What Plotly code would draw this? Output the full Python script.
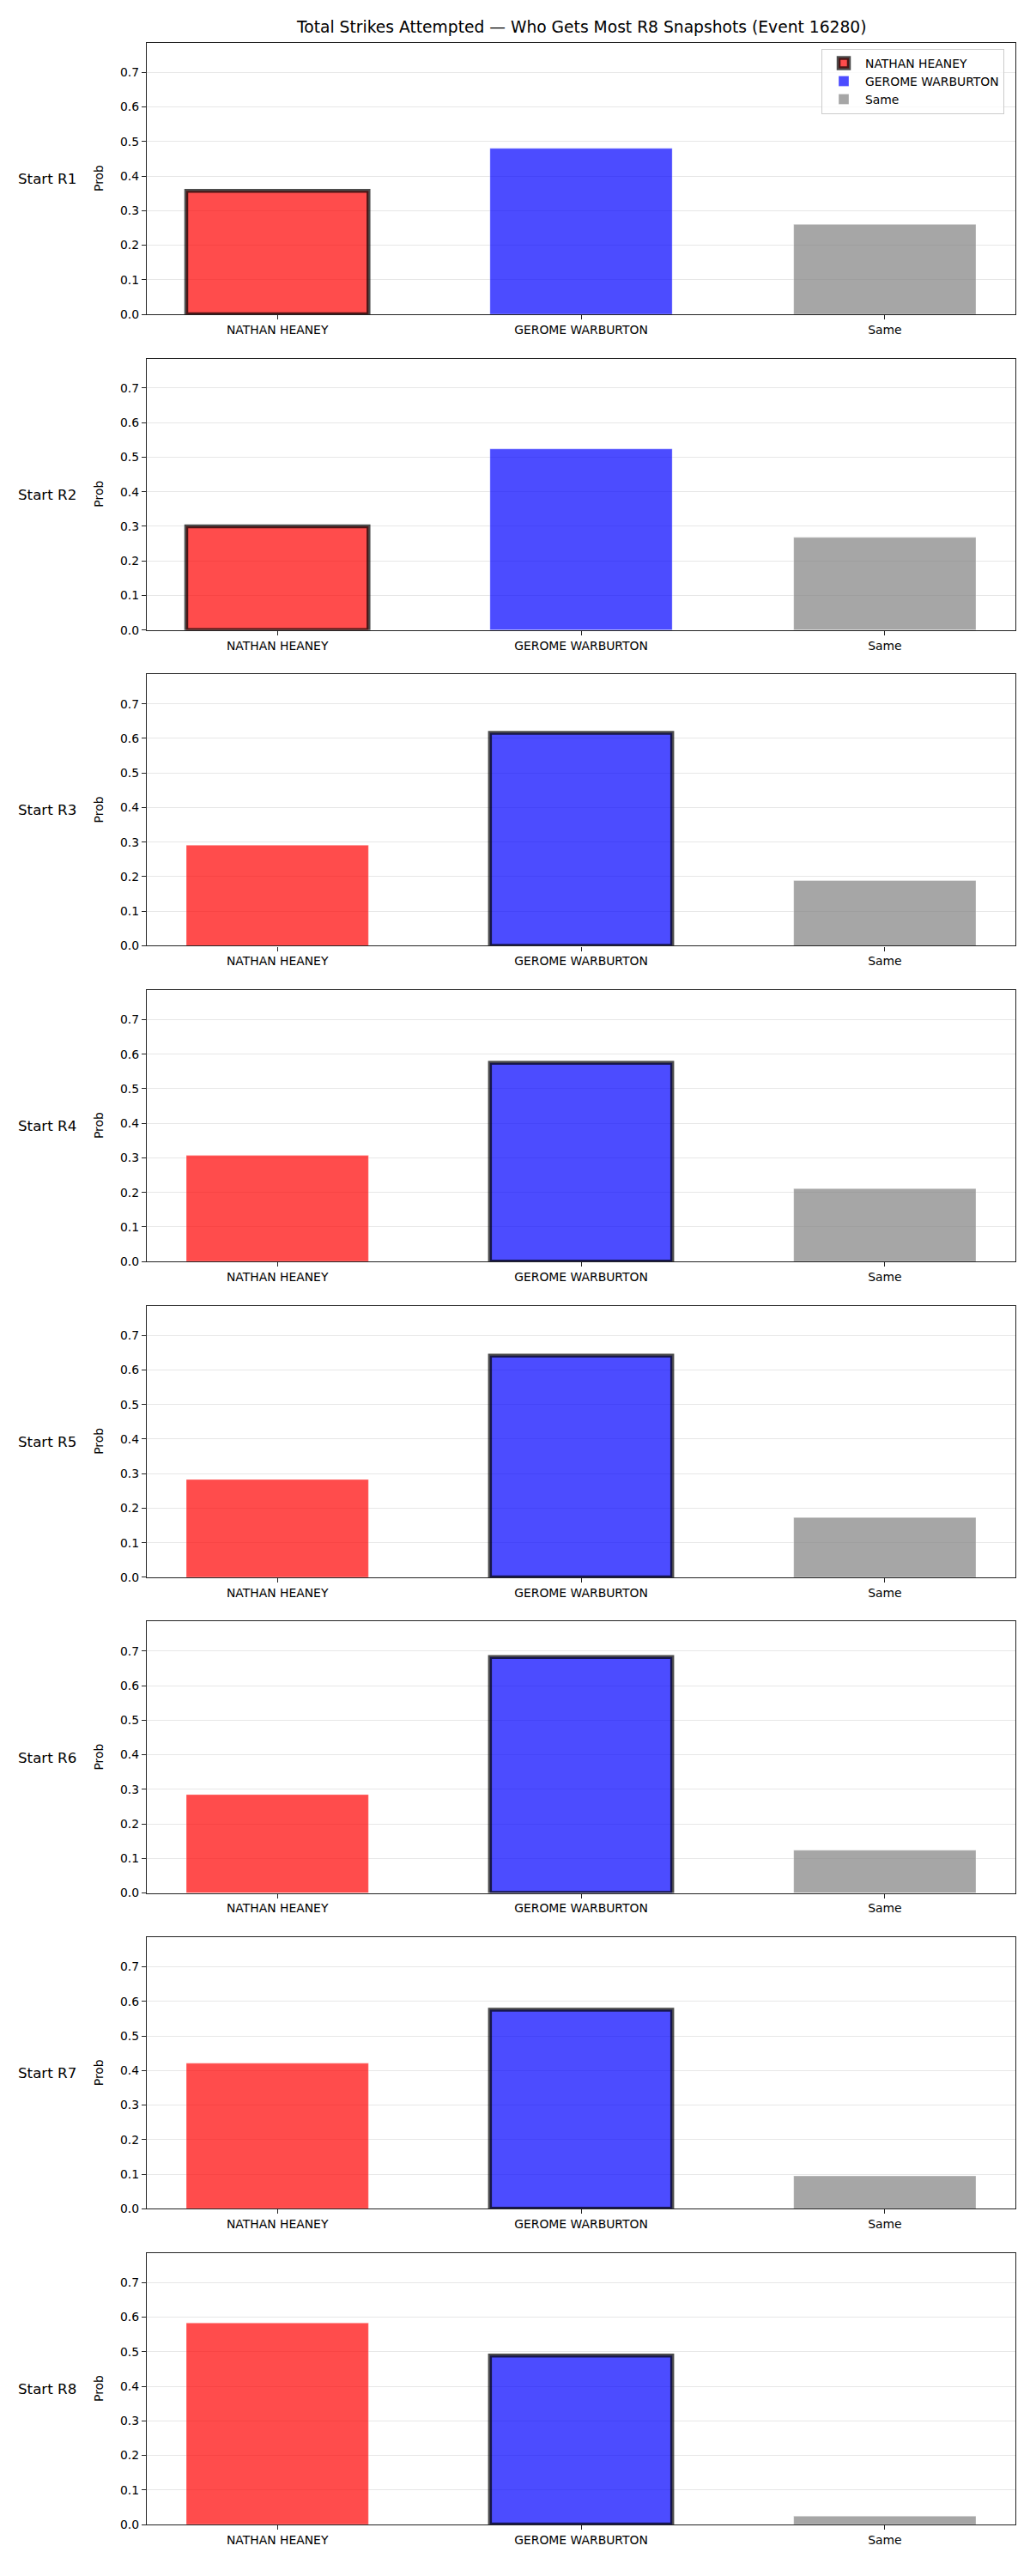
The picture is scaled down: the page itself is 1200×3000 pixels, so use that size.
import plotly.graph_objects as go

# ---- data ----
snapshots = ["Start R1", "Start R2", "Start R3", "Start R4",
             "Start R5", "Start R6", "Start R7", "Start R8"]
categories = ["NATHAN HEANEY", "GEROME WARBURTON", "Same"]
nathan = [0.357, 0.300, 0.291, 0.307, 0.283, 0.285, 0.421, 0.583]
gerome = [0.480, 0.524, 0.616, 0.575, 0.641, 0.683, 0.576, 0.489]
same = [0.260, 0.268, 0.189, 0.211, 0.173, 0.124, 0.095, 0.024]
highlight = ["NATHAN HEANEY", "NATHAN HEANEY", "GEROME WARBURTON", "GEROME WARBURTON",
             "GEROME WARBURTON", "GEROME WARBURTON", "GEROME WARBURTON", "GEROME WARBURTON"]
yticks = [0.0, 0.1, 0.2, 0.3, 0.4, 0.5, 0.6, 0.7]
title = "Total Strikes Attempted \u2014 Who Gets Most R8 Snapshots (Event 16280)"

colors = {"NATHAN HEANEY": "rgba(255,0,0,0.7)",
          "GEROME WARBURTON": "rgba(0,0,255,0.7)",
          "Same": "rgba(128,128,128,0.7)"}

W, H = 1200, 3000
FONT = "DejaVu Sans"
left_px, right_px = 171, 1183
top0, step, ph = 50, 368.7, 317

series = {"NATHAN HEANEY": nathan, "GEROME WARBURTON": gerome, "Same": same}
ymax = max(max(nathan), max(gerome), max(same)) * 1.15

fig = go.Figure()
annotations = []
layout = {}
for i, snap in enumerate(snapshots):
    top = top0 + step * i
    bot = top + ph
    ax = "" if i == 0 else str(i + 1)
    xa, ya = "x" + ax, "y" + ax
    for j, cat in enumerate(categories):
        hl = (cat == highlight[i])
        fig.add_trace(go.Bar(
            x=[j], y=[series[cat][i]], width=0.6,
            name=cat, legendgroup=cat, showlegend=(i == 0),
            marker=dict(color=colors[cat],
                        line=dict(color="rgba(0,0,0,0.7)" if hl else "rgba(255,255,255,0.7)",
                                  width=4.5 if hl else 0.5)),
            xaxis=xa, yaxis=ya,
        ))
    layout["xaxis" + ax] = dict(
        domain=[left_px / W, right_px / W], anchor=ya,
        range=[-0.43, 2.43], tickmode="array", tickvals=[0, 1, 2], ticktext=categories,
        showline=True, mirror=True, linecolor="#222", linewidth=1.3,
        ticks="outside", ticklen=5, tickcolor="#222", showgrid=False, zeroline=False,
        tickfont=dict(family=FONT, size=13.9, color="black"),
    )
    layout["yaxis" + ax] = dict(
        domain=[1 - bot / H, 1 - top / H], anchor=xa,
        range=[0, ymax], tickmode="array", tickvals=yticks,
        ticktext=["%.1f" % v for v in yticks],
        showline=True, mirror=True, linecolor="#222", linewidth=1.3,
        ticks="outside", ticklen=5, tickcolor="#222",
        showgrid=True, gridcolor="rgba(176,176,176,0.3)", gridwidth=1, zeroline=False,
        tickfont=dict(family=FONT, size=13.9, color="black"),
    )
    ymid = 1 - (top + bot) / 2 / H
    annotations.append(dict(text=snap, xref="paper", yref="paper", x=91 / W, y=ymid,
                            xanchor="right", yanchor="middle", showarrow=False,
                            font=dict(family=FONT, size=16.7, color="black")))
    annotations.append(dict(text="Prob", xref="paper", yref="paper", x=115 / W, y=ymid,
                            xanchor="center", yanchor="middle", textangle=-90, showarrow=False,
                            font=dict(family=FONT, size=13.9, color="black")))

annotations.append(dict(text=title, xref="paper", yref="paper", x=677 / W, y=1 - 32 / H,
                        xanchor="center", yanchor="middle", showarrow=False,
                        font=dict(family=FONT, size=18.7, color="black")))

fig.update_layout(
    width=W, height=H, margin=dict(l=0, r=0, t=0, b=0),
    paper_bgcolor="white", plot_bgcolor="white",
    barmode="overlay", annotations=annotations,
    legend=dict(x=1170 / W, y=1 - 57 / H, xanchor="right", yanchor="top",
                bgcolor="rgba(255,255,255,0.8)", bordercolor="#cccccc", borderwidth=1,
                itemwidth=40,
                font=dict(family=FONT, size=13.9, color="black"), traceorder="normal"),
    **layout,
)

fig.write_html("out.html")
